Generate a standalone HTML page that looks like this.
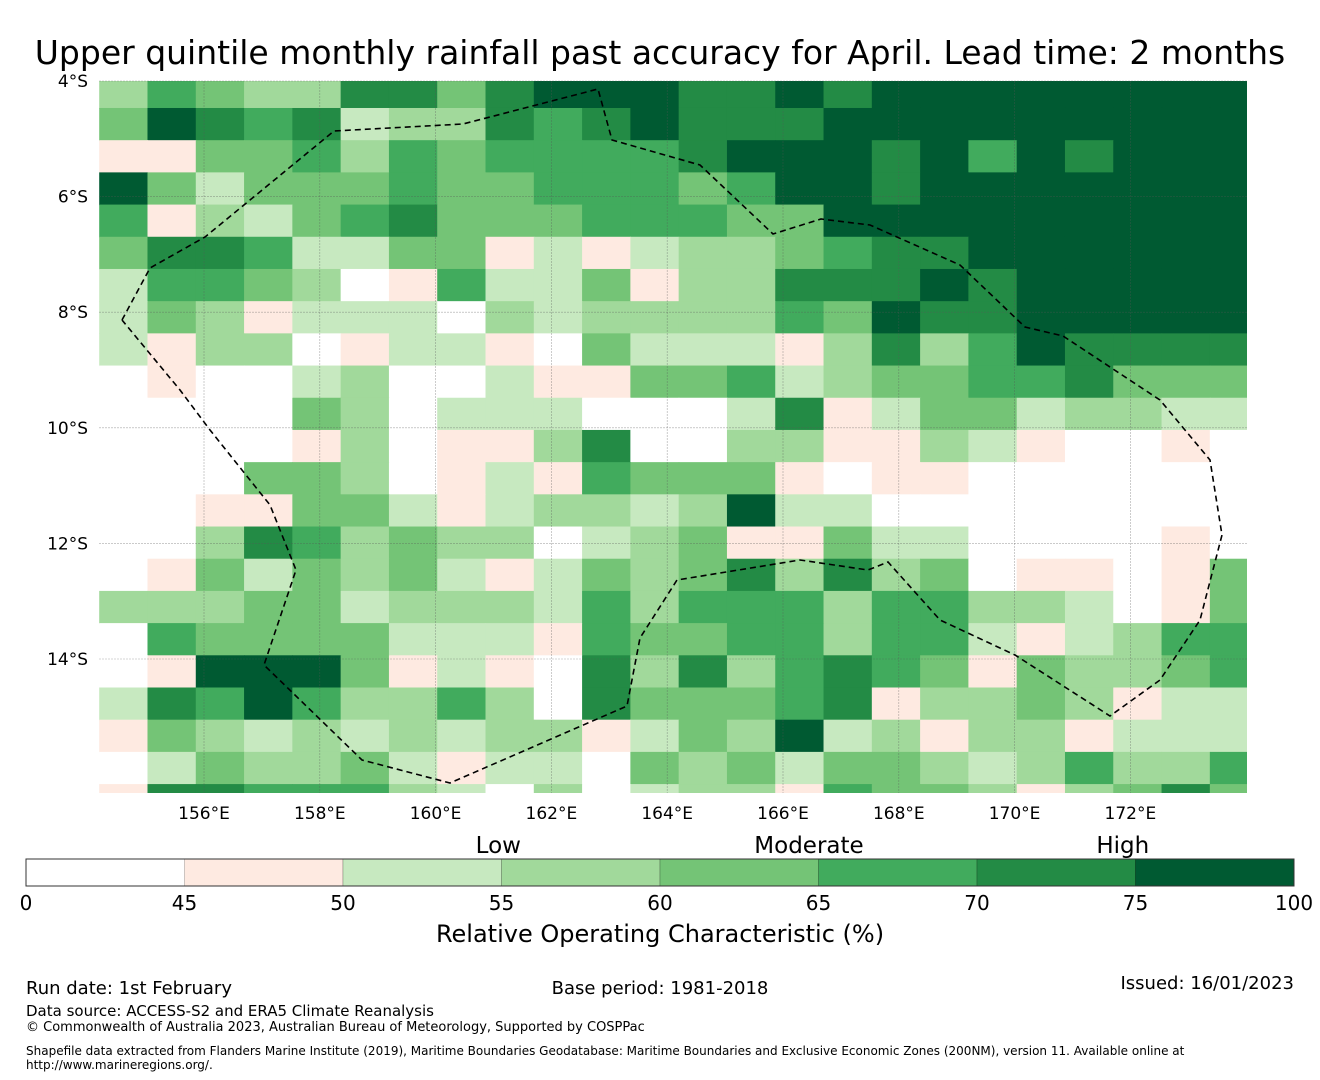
<!DOCTYPE html>
<html><head><meta charset="utf-8">
<style>
body{margin:0;width:1320px;height:1080px;background:#fff;overflow:hidden;font-family:"DejaVu Sans","Liberation Sans",sans-serif}
svg{display:block}
</style></head>
<body>
<svg id="chart" width="1320" height="1080" xmlns="http://www.w3.org/2000/svg" font-family="DejaVu Sans, Liberation Sans, sans-serif">
<text x="660" y="64" text-anchor="middle" font-size="33">Upper quintile monthly rainfall past accuracy for April. Lead time: 2 months</text>
<g id="cells"></g>
<g id="grid"></g>
<g id="bound"></g>
<g id="ticks"></g>
<g id="cbar"></g>
<text x="660" y="942" text-anchor="middle" font-size="24">Relative Operating Characteristic (%)</text>
<text x="26" y="994" font-size="18">Run date: 1st February</text>
<text x="660" y="994" text-anchor="middle" font-size="18">Base period: 1981-2018</text>
<text x="1294" y="989" text-anchor="end" font-size="18">Issued: 16/01/2023</text>
<text x="26" y="1016" font-size="15">Data source: ACCESS-S2 and ERA5 Climate Reanalysis</text>
<text x="26" y="1031" font-size="13">© Commonwealth of Australia 2023, Australian Bureau of Meteorology, Supported by COSPPac</text>
<text x="26" y="1055" font-size="12">Shapefile data extracted from Flanders Marine Institute (2019), Maritime Boundaries Geodatabase: Maritime Boundaries and Exclusive Economic Zones (200NM), version 11. Available online at</text>
<text x="26" y="1069" font-size="12">http://www.marineregions.org/.</text>
</svg>
<script>
const NS="http://www.w3.org/2000/svg";
// classes: 0:<45 1:45-50 2:50-55 3:55-60 4:60-65 5:65-70 6:70-75 7:75-100
const rocClassRows=[
"354336646777667677777777",
"476562336567666777777777",
"114453545555677767576777",
"742444544555457767777777",
"513245644455544777777777",
"466522441212334566777777",
"255430152241336667677777",
"243122203233335476677777",
"213301221042221363576666",
"010023002114452344556444",
"000043022200026124423322",
"000013011360033113210010",
"000443012154441011000000",
"001144212332372200000000",
"003653433023411422000010",
"014243421243463634011014",
"333442333253555355332014",
"054444222154455355212355",
"017774121063635654143345",
"265753353064445613343122",
"143232323312437231331222",
"024334212204342443235335",
"166555320302331544313464"];
const classValues=[40,47,52,57,62,67,72,85];
const lonStart=154.19, lonStep=0.834, nCols=24;
const latStart=3.91, latStep=0.557, nRows=23;
const tickLons=[156,158,160,162,164,166,168,170,172];
const tickLats=[4,6,8,10,12,14];
const cbarBounds=[0,45,50,55,60,65,70,75,100];
const cbarColors=["#ffffff","#feeae1","#c7e9c0","#a1d99b","#74c476","#41ab5d","#238b45","#005a32"];
const levelLabels=["Low","Moderate","High"];
const levelAt=[54.9,64.7,74.6];

const MX0=99,MX1=1247,MY0=81,MY1=793;
const xOf=lon=>204+(lon-156)*57.9;
const yOf=lat=>81+(lat-4)*57.8;
function colorOf(v){for(let i=cbarBounds.length-2;i>=0;i--){if(v>=cbarBounds[i])return cbarColors[i];}return cbarColors[0];}
function mk(tag,attrs,parent){const e=document.createElementNS(NS,tag);for(const k in attrs)e.setAttribute(k,attrs[k]);parent.appendChild(e);return e;}

const cells=document.getElementById('cells');
rocClassRows.forEach((row,r)=>{
  for(let c=0;c<nCols;c++){
    const v=classValues[+row[c]];
    let x0=xOf(lonStart+c*lonStep),x1=xOf(lonStart+(c+1)*lonStep);
    let y0=yOf(latStart+r*latStep),y1=yOf(latStart+(r+1)*latStep);
    x0=Math.max(x0,MX0);x1=Math.min(x1,MX1);y0=Math.max(y0,MY0);y1=Math.min(y1,MY1);
    if(x1<=x0||y1<=y0)continue;
    const e=mk('rect',{x:x0,y:y0,width:Math.min(x1-x0+0.6,MX1-x0),height:Math.min(y1-y0+0.6,MY1-y0),fill:colorOf(v)},cells);
    
    
  }
});
const grid=document.getElementById('grid');
tickLons.forEach(l=>{const e=mk('line',{x1:xOf(l),x2:xOf(l),y1:MY0,y2:MY1,stroke:'#555','stroke-width':0.6,'stroke-opacity':0.5,'stroke-dasharray':'2,1'},grid);
});
tickLats.forEach(l=>{const e=mk('line',{x1:MX0,x2:MX1,y1:yOf(l),y2:yOf(l),stroke:'#555','stroke-width':0.6,'stroke-opacity':0.5,'stroke-dasharray':'2,1'},grid);
});

const bound=document.getElementById('bound');
const sol="122,320 150,268 205,237 334,131 463,124 598,89 612,140 700,165 773,234 821,219 870,225 960,265 1025,327 1063,336 1160,400 1210,460 1222,535 1200,620 1160,680 1110,716 1015,655 940,620 888,562 868,570 800,560 677,580 640,638 627,706 450,783 362,760 264,665 296,570 270,505 210,430 180,390 122,320";
const pl=mk('polyline',{points:sol,fill:'none',stroke:'#000','stroke-width':1.6,'stroke-dasharray':'6,4'},bound);


const ticks=document.getElementById('ticks');
tickLats.forEach(l=>{const t=mk('text',{x:88,y:yOf(l)+6,'text-anchor':'end','font-size':17},ticks);t.textContent=l+'°S';
});
tickLons.forEach(l=>{const t=mk('text',{x:xOf(l),y:819,'text-anchor':'middle','font-size':17},ticks);t.textContent=l+'°E';
});

const cb=document.getElementById('cbar');
const CX0=26,CW=1268,CY=859,CH=27,seg=CW/(cbarBounds.length-1);
for(let i=0;i<cbarColors.length;i++){
  const e=mk('rect',{x:CX0+i*seg,y:CY,width:seg,height:CH,fill:cbarColors[i],stroke:i?'rgba(0,0,0,0.2)':'none','stroke-width':1},cb);
  
}
const fr=mk('rect',{x:CX0,y:CY,width:CW,height:CH,fill:'none',stroke:'#333','stroke-width':1},cb);

cbarBounds.forEach((b,i)=>{const t=mk('text',{x:CX0+i*seg,y:910,'text-anchor':'middle','font-size':20},cb);t.textContent=b;
});
function cbX(v){for(let i=0;i<cbarBounds.length-1;i++){if(v<=cbarBounds[i+1])return CX0+(i+(v-cbarBounds[i])/(cbarBounds[i+1]-cbarBounds[i]))*seg;}return CX0+CW;}
levelLabels.forEach((s,i)=>{const t=mk('text',{x:cbX(levelAt[i]),y:853,'text-anchor':'middle','font-size':23},cb);t.textContent=s;
});
</script>
</body></html>
